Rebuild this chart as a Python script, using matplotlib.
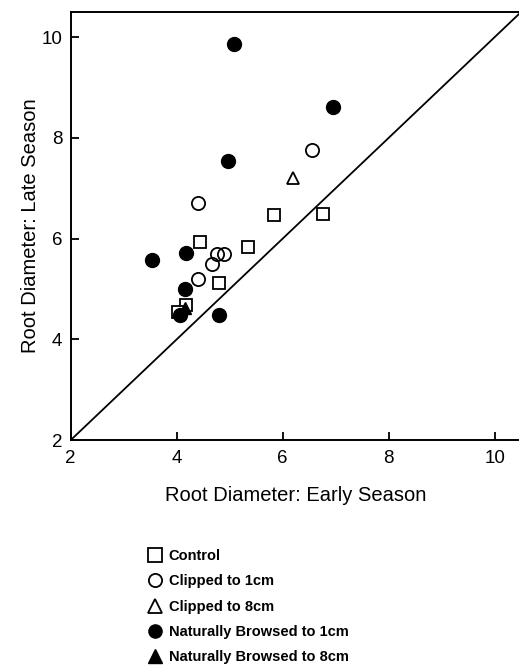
import numpy as np
import matplotlib
matplotlib.use("Agg")
import matplotlib.pyplot as plt

# early season (x) vs late season (y) root diameter
control_x = [5.84, 6.76, 4.44, 5.35, 4.80, 4.18, 4.03]
control_y = [6.48, 6.50, 5.94, 5.84, 5.13, 4.69, 4.55]

clip1_x = [6.55, 4.40, 4.76, 4.90, 4.67, 4.41]
clip1_y = [7.76, 6.71, 5.70, 5.70, 5.50, 5.21]

clip8_x = [6.19]
clip8_y = [7.21]

browse1_x = [5.08, 6.95, 4.97, 3.53, 4.18, 4.16, 4.06, 4.80]
browse1_y = [9.86, 8.61, 7.54, 5.58, 5.72, 5.01, 4.48, 4.48]

browse8_x = [4.15]
browse8_y = [4.62]

labels = ['Control', 'Clipped to 1cm', 'Clipped to 8cm',
          'Naturally Browsed to 1cm', 'Naturally Browsed to 8cm']

plt.rcParams['font.family'] = ['Liberation Sans', 'DejaVu Sans']

fig = plt.figure(figsize=(5.19, 6.67), dpi=100)
ax = fig.add_axes([0.136, 0.340, 0.868, 0.642])

ax.plot([2, 10.5], [2, 10.5], color='black', lw=1.3, zorder=1)

h1, = ax.plot(control_x, control_y, 's', ms=8, mfc='white', mec='black', mew=1.3, ls='none')
h2, = ax.plot(clip1_x, clip1_y, 'o', ms=9.5, mfc='none', mec='black', mew=1.3, ls='none')
h3, = ax.plot(clip8_x, clip8_y, '^', ms=9, mfc='white', mec='black', mew=1.3, ls='none')
h4, = ax.plot(browse1_x, browse1_y, 'o', ms=10, mfc='black', mec='black', ls='none')
h5, = ax.plot(browse8_x, browse8_y, '^', ms=9, mfc='black', mec='black', ls='none')

ax.set_xlim(2, 10.5)
ax.set_ylim(2, 10.5)
ax.set_xticks([2, 4, 6, 8, 10])
ax.set_yticks([2, 4, 6, 8, 10])
ax.tick_params(direction='in', length=6, width=1.3, labelsize=13.5, pad=6)
ax.tick_params(axis='x', pad=7)
for s in ax.spines.values():
    s.set_linewidth(1.4)

ax.set_xlabel('Root Diameter: Early Season', fontsize=14.5, labelpad=14)
ax.set_ylabel('Root Diameter: Late Season', fontsize=14.5)
ax.yaxis.set_label_coords(-0.068, 0.5)

leg = fig.legend([h1, h2, h3, h4, h5], labels, loc='upper left',
                 bbox_to_anchor=(0.27, 0.188), frameon=False,
                 prop={'weight': 'bold', 'size': 10.5}, handletextpad=0.35,
                 labelspacing=0.78, handlelength=1.1, borderpad=0)
for h in leg.legend_handles:
    h.set_markersize(9.5)

fig.savefig('out.png', dpi=100)
